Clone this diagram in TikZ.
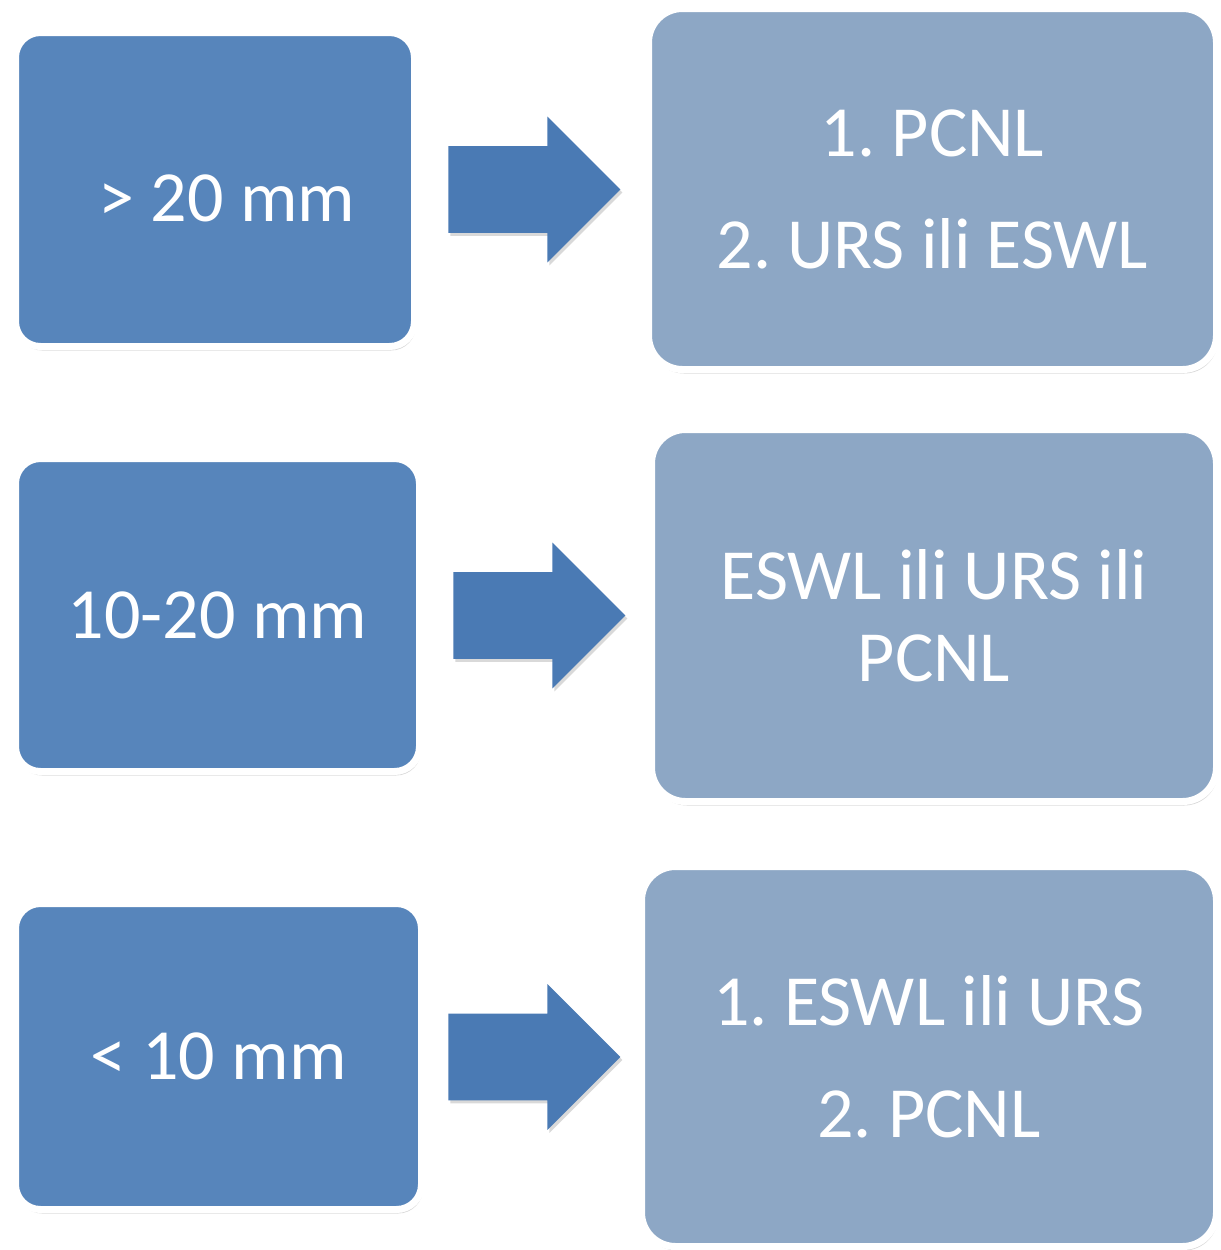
\documentclass[tikz,border=0pt]{standalone}
\usepackage{fontspec}
\setmainfont{Carlito}
\frenchspacing
\usetikzlibrary{shapes.arrows,shadows}
\definecolor{leftblue}{RGB}{87,133,187}
\definecolor{arrowblue}{RGB}{74,122,180}
\definecolor{rightblue}{RGB}{141,167,197}
\tikzstyle{every node}=[text=white,font=\fontsize{36}{41}\selectfont,align=center]
\tikzstyle{box}=[draw=white,line width=3.5pt,inner sep=0pt,
  drop shadow={opacity=0.3,shadow xshift=0.8pt,shadow yshift=-2pt}]
\tikzstyle{leftbox}=[box,fill=leftblue,rounded corners=12.5pt]
\tikzstyle{rightbox}=[box,fill=rightblue,rounded corners=17pt]
\tikzstyle{blockarrow}=[single arrow,fill=arrowblue,inner sep=21.5pt,anchor=tail,
  minimum height=86pt,single arrow head extend=14.75pt,
  drop shadow={opacity=0.3,shadow xshift=1pt,shadow yshift=-1.5pt}]

\begin{document}
\begin{tikzpicture}[x=0.5pt,y=-0.5pt]
  \useasboundingbox (0,0) rectangle (1221,1250);

  % stone size
  \node[leftbox,minimum width=199.5pt,minimum height=157pt,
    text height=32pt,text depth=0pt] (L1) at (215,189.5) {\hspace*{12pt}> 20 mm};
  \node[leftbox,minimum width=202pt,minimum height=156.5pt] (L2) at (217.5,615) {10-20 mm};
  \node[leftbox,minimum width=203pt,minimum height=153pt] (L3) at (218.5,1056.5) {< 10 mm};

  % treatment
  \node[rightbox,minimum width=284pt,minimum height=180.5pt] (R1) at (932.5,189)
    {1. PCNL\\[15pt] 2. URS ili ESWL};
  \node[rightbox,minimum width=282.5pt,minimum height=186pt] (R2) at (934,615.5)
    {ESWL ili URS ili\\ PCNL};
  \node[rightbox,minimum width=287.5pt,minimum height=190pt] (R3) at (929,1056.5)
    {1. ESWL ili URS\\[15pt] 2. PCNL};

  % arrows
  \node[blockarrow] (A1) at (448,189.5) {};
  \node[blockarrow] (A2) at (453,615.5) {};
  \node[blockarrow] (A3) at (448,1057) {};

\end{tikzpicture}
\end{document}
